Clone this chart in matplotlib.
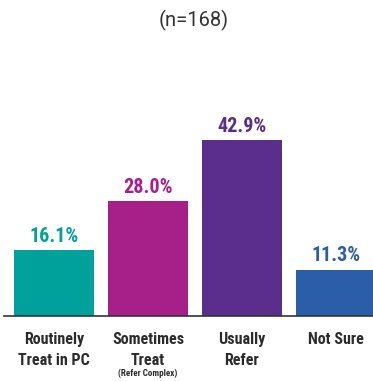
import matplotlib
matplotlib.use("Agg")
import matplotlib.pyplot as plt

categories = ["Routinely\nTreat in PC", "Sometimes\nTreat", "Usually\nRefer", "Not Sure"]
values = [16.1, 28.0, 42.9, 11.3]
colors = ["#00A19A", "#A7208A", "#5B2E8E", "#2A5EA8"]
note = "(Refer Complex)"
title = "(n=168)"

cond = ["Roboto Condensed", "DejaVu Sans"]

fig = plt.figure(figsize=(3.73, 3.81), dpi=100)
ax = fig.add_axes([0, 0.1706, 1, 0.538])
x = list(range(len(values)))
ax.bar(x, values, width=0.851, color=colors)
ax.set_xlim(-0.574, 3.394)
ax.set_ylim(0, 50)

# value labels above bars
for xi, v, c in zip(x, values, colors):
    ax.text(xi, v + 2.0, f"{v:.1f}%", ha="center", va="baseline", color=c,
            fontsize=14.5, fontweight="bold", family=cond)

# category labels under the axis
for xi, lab in zip(x, categories):
    ax.text(xi, -3.9, lab, ha="center", va="top", color="#2b2b2b",
            fontsize=11.5, fontweight="bold", family=cond, linespacing=1.5)
ax.text(1, -14.0, note, ha="center", va="center", color="#2b2b2b",
        fontsize=6.5, fontweight="bold", family=cond)

for s in ["top", "right", "left"]:
    ax.spines[s].set_visible(False)
ax.spines["bottom"].set_color("#333333")
ax.spines["bottom"].set_linewidth(1.2)
ax.spines["bottom"].set_bounds(-0.53, 3.394)
ax.set_xticks([])
ax.set_yticks([])

fig.text(0.52, 0.946, title, ha="center", va="center", fontsize=14.5,
         color="#333333", family=["Roboto", "DejaVu Sans"])

fig.savefig("out.png", dpi=100)
